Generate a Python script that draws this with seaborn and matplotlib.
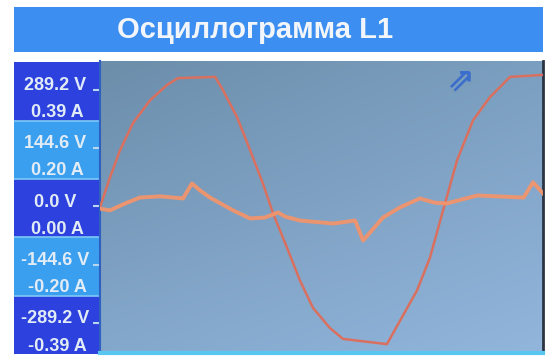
import numpy as np
import pandas as pd
import matplotlib
matplotlib.use("Agg")
import matplotlib.pyplot as plt
from matplotlib.patches import Rectangle
import seaborn as sns

# Voltage trace, time in ms, value in volts
volt_t = [0.0, 0.58, 1.17, 1.92, 2.92, 3.91, 4.55, 6.71, 7.17, 7.99, 8.75, 9.50,
          10.09, 10.90, 11.66, 12.42, 13.41, 14.17, 16.73, 17.49, 18.48, 19.24,
          20.0, 20.82, 21.75, 22.74, 23.91, 25.83]
volt_v = [-2, 72, 140, 207, 264, 302, 319, 322, 289, 222, 140, 57,
          -17, -102, -184, -252, -302, -329, -342, -284, -209, -127,
          -10, 115, 214, 272, 322, 327]

# Current trace, time in ms, value in amperes
curr_t = [0.0, 0.58, 1.46, 2.33, 3.50, 4.84, 5.36, 5.83, 6.41, 7.76, 8.75, 9.62,
          10.38, 10.80, 11.66, 13.59, 14.87, 15.34, 16.50, 17.49, 18.66, 19.50,
          20.20, 22.00, 24.70, 25.25, 25.83]
curr_a = [-0.007, -0.013, 0.010, 0.030, 0.034, 0.027, 0.077, 0.054, 0.030, -0.013,
          -0.040, -0.037, -0.020, -0.034, -0.047, -0.057, -0.047, -0.114, -0.037,
          -0.003, 0.027, 0.013, 0.010, 0.037, 0.030, 0.081, 0.044]

# Scale labels on the left panel
volt_ticks = [289.2, 144.6, 0.0, -144.6, -289.2]
volt_labels = ["289.2 V", "144.6 V", "0.0 V", "-144.6 V", "-289.2 V"]
amp_labels = ["0.39 A", "0.20 A", "0.00 A", "-0.20 A", "-0.39 A"]
title = "Осциллограмма L1"

V_FULL, A_FULL = 289.2, 0.39
Y_LO, Y_HI = -364.0, 361.5
T_MAX = 25.83

volt_df = pd.DataFrame({"t": volt_t, "v": volt_v})
curr_df = pd.DataFrame({"t": curr_t, "a": curr_a})

plt.rcParams["font.family"] = ["Liberation Sans", "DejaVu Sans"]

W, H = 549, 358
fig = plt.figure(figsize=(W / 100, H / 100), dpi=100, facecolor="white")

def fx(px):
    return px / W

def fy(py):
    return 1 - py / H

# title bar
fig.patches.append(Rectangle((fx(14), fy(52)), fx(529), 45 / H, transform=fig.transFigure,
                             facecolor="#3c8ef0", edgecolor="none", zorder=0))
fig.text(fx(255), fy(30), title, ha="center", va="center", color="#f2f6fb",
         fontsize=21, fontweight="bold", zorder=3)

# left scale panel, same vertical scale as the trace area
pan = fig.add_axes([fx(14), fy(354), fx(86), (354 - 61) / H])
pan.set_xlim(0, 1)
pan.set_ylim(Y_LO, Y_HI)
pan.axis("off")
step = 144.6
for i, v in enumerate(volt_ticks):
    lo = max(v - 0.52 * step, Y_LO)
    hi = min(v + 0.48 * step, Y_HI)
    col = "#2c41dd" if i % 2 == 0 else "#3a9fee"
    pan.add_patch(Rectangle((0, lo), 1, hi - lo, facecolor=col, edgecolor="none"))
    if i > 0:
        pan.axhline(hi, color="#7ec9f6", lw=1.2)
    pan.text(0.48, v + 12, volt_labels[i], ha="center", va="center",
             color="#e2ecf6", fontsize=13, fontweight="bold")
    pan.text(0.50, v - 55, amp_labels[i], ha="center", va="center",
             color="#e2ecf6", fontsize=13, fontweight="bold")

# trace area
ax = fig.add_axes([fx(100), fy(353), fx(443), (353 - 61) / H])
ax.set_xlim(0, T_MAX)
ax.set_ylim(Y_LO, Y_HI)

# screen background shading
corners = np.array([[[0x6c, 0x8e, 0xab], [0x7b, 0x9f, 0xc0]],
                    [[0x84, 0xa8, 0xcc], [0x92, 0xb5, 0xdc]]]) / 255.0
gy, gx = np.mgrid[0:1:60j, 0:1:100j]
bg = (corners[0, 0] * ((1 - gy) * (1 - gx))[..., None] + corners[0, 1] * ((1 - gy) * gx)[..., None]
      + corners[1, 0] * (gy * (1 - gx))[..., None] + corners[1, 1] * (gy * gx)[..., None])
ax.imshow(bg, extent=[0, T_MAX, Y_LO, Y_HI], aspect="auto", zorder=0, interpolation="bilinear")

sns.lineplot(data=volt_df, x="t", y="v", ax=ax, color="#d9705f", lw=1.8, zorder=3)

ax2 = ax.twinx()
ax2.set_ylim(Y_LO * A_FULL / V_FULL, Y_HI * A_FULL / V_FULL)
sns.lineplot(data=curr_df, x="t", y="a", ax=ax2, color="#f2946c", lw=2.8, alpha=0.95, zorder=2)
ax2.axis("off")

ax.set_yticks(volt_ticks)
ax.set_yticklabels([])
ax.set_xticks([])
ax.tick_params(axis="y", direction="out", length=5, width=1.5, color="#b8d6f2")
ax.set_xlabel("")
ax.set_ylabel("")
for side, sp in ax.spines.items():
    sp.set_visible(False)
ax.spines["left"].set_visible(True)
ax.spines["left"].set_color("#2f5fbf")
ax.spines["left"].set_linewidth(1.5)
ax.spines["right"].set_visible(True)
ax.spines["right"].set_color("#2b3442")
ax.spines["right"].set_linewidth(2)
ax.spines["bottom"].set_visible(True)
ax.spines["bottom"].set_color("#58c6f0")
ax.spines["bottom"].set_linewidth(3)

# direction indicator
ax.text(21.0, 312, "⇗", ha="center", va="center", color="#3a6dcc",
        fontsize=24, fontweight="bold", family="DejaVu Sans", zorder=4)

fig.savefig("out.png", dpi=100, facecolor="white")
